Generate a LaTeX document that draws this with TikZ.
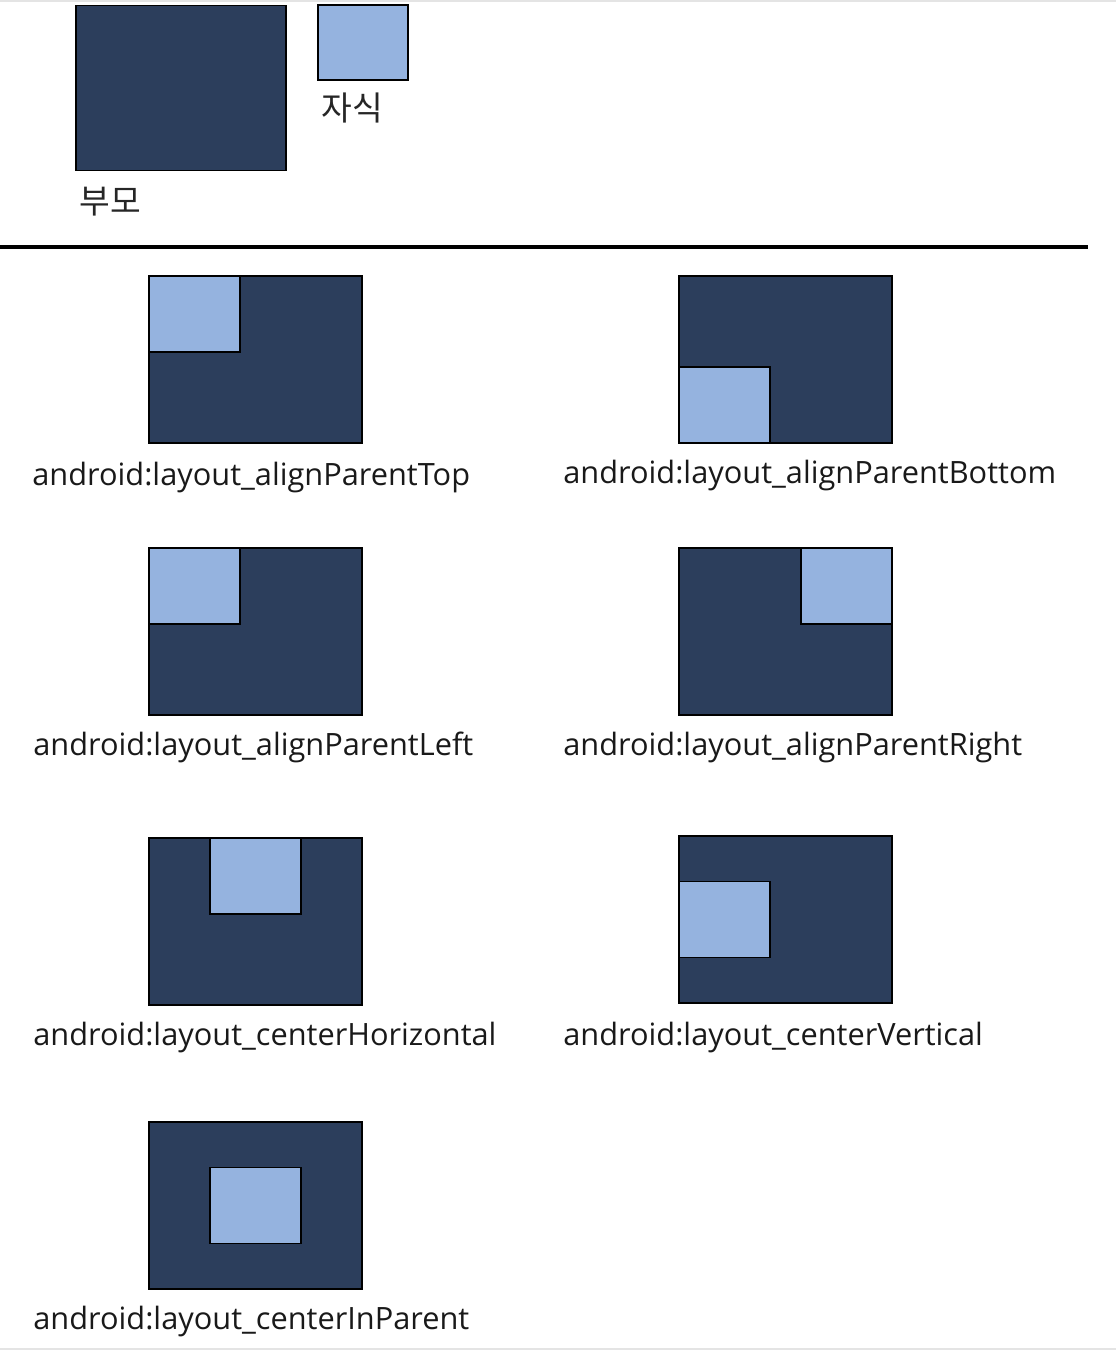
\documentclass[tikz,border=0pt]{standalone}
\usepackage{fontspec}
\setmainfont{Open Sans}
\newfontfamily\krfont{Noto Sans CJK KR}
\usetikzlibrary{positioning}
\definecolor{parentblue}{HTML}{2C3E5C}
\definecolor{childblue}{HTML}{95B3DF}
\definecolor{framegray}{HTML}{E4E4E4}
\tikzset{
  parentbox/.style={draw=black, line width=0.85pt, fill=parentblue, inner sep=0pt, minimum width=4.26cm, minimum height=3.34cm},
  childbox/.style={draw=black, line width=0.85pt, fill=childblue, inner sep=0pt, minimum width=1.82cm, minimum height=1.52cm},
  attrlabel/.style={anchor=base west, inner sep=0pt, text=black!90, font=\fontsize{17.5pt}{20pt}\selectfont},
  krlabel/.style={anchor=base west, inner sep=0pt, text=black!85, font=\krfont\fontsize{19pt}{22pt}\selectfont}
}

\begin{document}
\begin{tikzpicture}[x=0.02cm, y=-0.02cm]
  \useasboundingbox (0,0) rectangle (1116,1350);
  \fill[framegray] (0,0) rectangle (1116,2);
  \fill[framegray] (0,1348) rectangle (1116,1350);

  % legend
  \node[parentbox, minimum width=4.2cm, minimum height=3.3cm] (legparent) at (181,88) {};
  \node[childbox, minimum width=1.8cm, minimum height=1.5cm] (legchild) at (363,42.5) {};
  \node[krlabel] (legparentlbl) at (79,213) {부모};
  \node[krlabel] (legchildlbl) at (321,120) {자식};
  \coordinate (sepl) at (0,247);
  \coordinate (sepr) at (1088,247);
  \draw[line width=2.3pt] (sepl) -- (sepr);

  % parent boxes
  \node[parentbox] (top) at (255.5,359.5) {};
  \node[parentbox] (bottom) at (785.5,359.5) {};
  \node[parentbox] (left) at (255.5,631.5) {};
  \node[parentbox] (right) at (785.5,631.5) {};
  \node[parentbox] (chor) at (255.5,921.5) {};
  \node[parentbox] (cver) at (785.5,919.5) {};
  \node[parentbox] (cin) at (255.5,1205.5) {};

  % child boxes
  \node[childbox, anchor=north west] (topc) at (top.north west) {};
  \node[childbox, anchor=south west] (bottomc) at (bottom.south west) {};
  \node[childbox, anchor=north west] (leftc) at (left.north west) {};
  \node[childbox, anchor=north east] (rightc) at (right.north east) {};
  \node[childbox, anchor=north] (chorc) at (chor.north) {};
  \node[childbox, anchor=west] (cverc) at (cver.west) {};
  \node[childbox] (cinc) at (cin.center) {};

  % attribute names
  \node[attrlabel] (toplbl) at (32,485) {android:layout\_alignParentTop};
  \node[attrlabel] (bottomlbl) at (563,483) {android:layout\_alignParentBottom};
  \node[attrlabel] (leftlbl) at (33,755) {android:layout\_alignParentLeft};
  \node[attrlabel] (rightlbl) at (563,755) {android:layout\_alignParentRight};
  \node[attrlabel] (chorlbl) at (33,1045) {android:layout\_centerHorizontal};
  \node[attrlabel] (cverlbl) at (563,1045) {android:layout\_centerVertical};
  \node[attrlabel] (cinlbl) at (33,1329) {android:layout\_centerInParent};
\end{tikzpicture}
\end{document}
